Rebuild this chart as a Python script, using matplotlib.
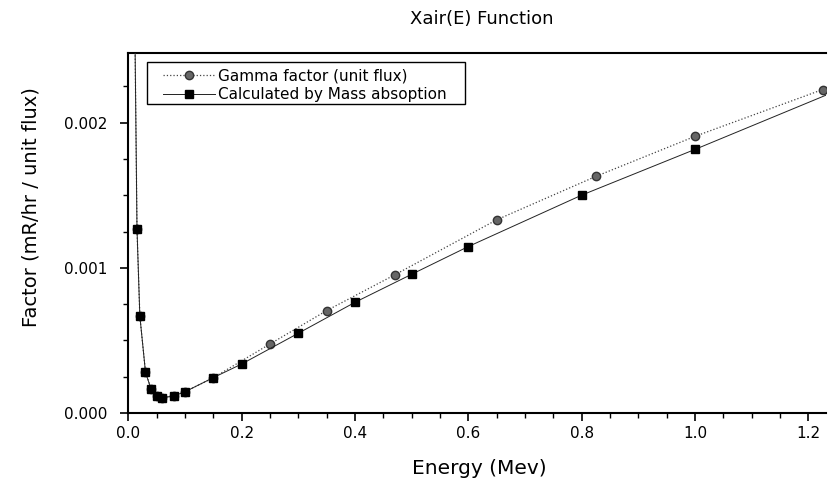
import matplotlib
matplotlib.use("Agg")
import matplotlib.pyplot as plt
from matplotlib.patches import Rectangle
from matplotlib.ticker import MultipleLocator, FormatStrFormatter

plt.rcParams['font.family'] = ['DejaVu Sans']

# Calculated by mass absorption (squares)
mass_E = [0.01, 0.015, 0.02, 0.03, 0.04, 0.05, 0.06, 0.08, 0.10, 0.15, 0.20, 0.30, 0.40, 0.50, 0.60, 0.80, 1.00, 1.25]
mass_F = [0.00312, 0.001267, 0.000669, 0.000281, 0.000163, 0.000120, 0.000106, 0.000117, 0.000147,
          0.000244, 0.000338, 0.000550, 0.000763, 0.000956, 0.001147, 0.001501, 0.001816, 0.00222]

# Gamma factor (unit flux) (circles)
gam_E = [0.01, 0.015, 0.02, 0.03, 0.04, 0.05, 0.06, 0.08, 0.10, 0.15, 0.25, 0.35, 0.47, 0.65, 0.825, 1.00, 1.225]
gam_F = [0.00312, 0.001267, 0.000669, 0.000281, 0.000163, 0.000120, 0.000106, 0.000117, 0.000147,
         0.000244, 0.000476, 0.000706, 0.000952, 0.001331, 0.00163, 0.001906, 0.002228]

x_ticks = [0.0, 0.2, 0.4, 0.6, 0.8, 1.0, 1.2]
y_ticks = [0.000, 0.001, 0.002]

W, H = 829, 483
fig = plt.figure(figsize=(W / 100, H / 100), dpi=100)
ax = fig.add_axes([128.5 / W, 70 / H, 698 / W, 360 / H])

ax.plot(gam_E, gam_F, linestyle=':', color='#444444', linewidth=0.9,
        marker='o', markersize=6, markerfacecolor='#666666', markeredgecolor='#333333',
        label='Gamma factor (unit flux)', zorder=3)
ax.plot(mass_E, mass_F, linestyle='-', color='#222222', linewidth=0.7,
        marker='s', markersize=5.5, markerfacecolor='black', markeredgecolor='black',
        label='Calculated by Mass absoption', zorder=4)

ax.set_xlim(0.0, 1.232)
ax.set_ylim(0.0, 0.00248)
ax.set_xticks(x_ticks)
ax.set_yticks(y_ticks)
ax.xaxis.set_major_formatter(FormatStrFormatter('%.1f'))
ax.yaxis.set_major_formatter(FormatStrFormatter('%.3f'))
ax.xaxis.set_minor_locator(MultipleLocator(0.05))
ax.yaxis.set_minor_locator(MultipleLocator(0.00025))
ax.tick_params(which='major', direction='out', length=6, width=1.2, labelsize=11)
ax.tick_params(which='minor', direction='out', length=3.5, width=1.0)
ax.tick_params(axis='x', which='major', pad=3)
ax.tick_params(axis='y', which='major', pad=9)
ax.spines['right'].set_visible(False)
for s in ['left', 'bottom', 'top']:
    ax.spines[s].set_linewidth(1.5)

fig.text(479 / W, 1 - 468 / H, 'Energy (Mev)', fontsize=14.5, ha='center', va='center')
fig.text(31 / W, 1 - 207 / H, 'Factor (mR/hr / unit flux)', fontsize=14,
         rotation=90, ha='center', va='center')
fig.text(482 / W, 1 - 19 / H, 'Xair(E) Function', fontsize=13, ha='center', va='center')

# legend box
ax.add_patch(Rectangle((0.0265, 0.8583), 0.4556, 0.1167, transform=ax.transAxes,
                       facecolor='white', edgecolor='black', linewidth=1.0, zorder=5))
leg = ax.legend(loc='upper left', bbox_to_anchor=(0.0494, 0.956),
                fontsize=11, frameon=False, borderpad=0.0, borderaxespad=0.0,
                labelspacing=0.2, handlelength=3.4, handletextpad=0.2)
leg.set_zorder(6)

fig.savefig('out.png', dpi=100)
